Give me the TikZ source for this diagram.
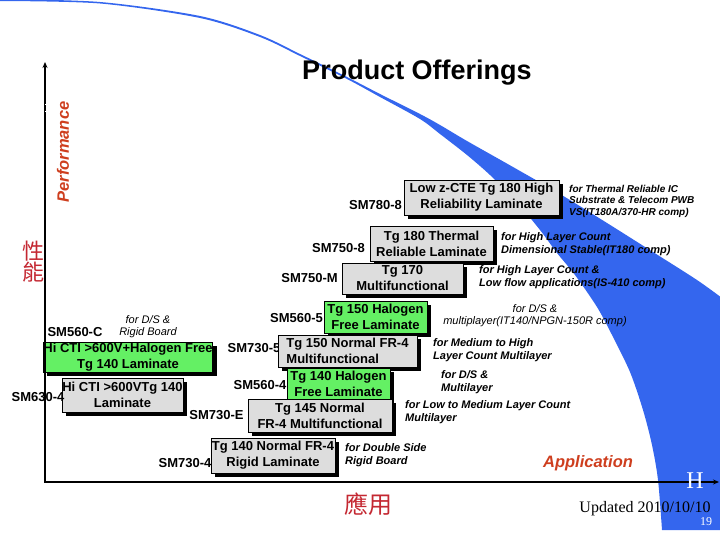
\documentclass[tikz,border=0pt]{standalone}
\usepackage{fontspec}
\setmainfont{Liberation Sans}
\newfontfamily\serifx{Liberation Serif}
\newfontfamily\cjk{Noto Sans CJK TC}
\usetikzlibrary{shadows,arrows.meta}
\definecolor{bandblue}{RGB}{52,102,238}
\definecolor{boxgray}{RGB}{221,221,221}
\definecolor{boxgreen}{RGB}{100,240,100}
\definecolor{axisred}{RGB}{206,62,30}
\definecolor{cjkred}{RGB}{196,40,50}
\begin{document}
\begin{tikzpicture}[x=1pt,y=-1pt,
  prod/.style={draw=black, line width=0.6pt, align=center, inner sep=1pt,
    font=\bfseries\fontsize{13}{16}\selectfont,
    drop shadow={shadow xshift=4pt, shadow yshift=-4pt, fill=black, opacity=1}},
  graybox/.style={prod, fill=boxgray},
  greenbox/.style={prod, fill=boxgreen},
  sm/.style={font=\bfseries\fontsize{13}{15}\selectfont, inner sep=0pt},
  usage/.style={font=\bfseries\itshape\fontsize{11}{13}\selectfont, align=left, inner sep=0pt, anchor=west},
  usagelt/.style={font=\itshape\fontsize{11}{12}\selectfont, align=center, inner sep=0pt},
  axisline/.style={line width=2.5pt, -{Stealth[length=6pt,width=5pt]}},
  axislabel/.style={font=\bfseries\itshape\fontsize{16.5}{18}\selectfont, text=axisred, inner sep=0pt},
]
\useasboundingbox (0,0) rectangle (720,540);

% blue band
\fill[bandblue] plot[smooth] coordinates {(-2,-1) (100,2) (200,16) (260,35) (300,54) (347,77) (380,94) (420,114) (440,125) (467,141) (513,167) (560,194) (607,223) (653,252) (697,280) (722,298)}
  -- (722,530) -- (662,530)
  -- plot[smooth] coordinates {(662,530) (658,480) (652,445) (643,410) (630,372) (612,335) (597,307) (575,275) (557,253) (540,230) (515,200) (490,175) (467,155) (440,134) (420,119) (380,97) (347,79) (300,56) (260,37) (200,18) (100,3.5) (-2,1)}
  -- cycle;

% title
\node[font=\bfseries\fontsize{27}{30}\selectfont, anchor=base, inner sep=0pt] (title) at (417,80) {Product Offerings};

% axis labels
\node[axislabel, rotate=90] (perf) at (63,152) {Performance};
\node[axislabel] (appl) at (588,463) {Application};
\node[font=\cjk\fontsize{22}{20}\selectfont, text=cjkred, align=center, inner sep=0pt] (xingneng) at (33,262) {性\\能};
\node[font=\cjk\fontsize{24}{26}\selectfont, text=cjkred, inner sep=0pt] (yingyong) at (368,504) {應用};

% product labels
\node[sm] (l1) at (375.5,205) {SM780-8};
\node[sm] (l2) at (338.5,248) {SM750-8};
\node[sm] (l3) at (309.5,278) {SM750-M};
\node[sm] (l4) at (296.5,318) {SM560-5};
\node[sm] (l5) at (254,348) {SM730-5};
\node[sm] (l6) at (260,385) {SM560-4};
\node[sm] (l7) at (216.5,415) {SM730-E};
\node[sm] (l8) at (185,463) {SM730-4};
\node[sm] (l9) at (75,332) {SM560-C};

% boxes
\node[graybox, minimum width=155pt, minimum height=35pt] (b1) at (481.5,197.5) {Low z-CTE Tg 180 High\\Reliability Laminate};
\node[graybox, minimum width=123pt, minimum height=35pt] (b2) at (431.5,243.5) {Tg 180 Thermal\\Reliable Laminate};
\node[graybox, minimum width=121pt, minimum height=31pt] (b3) at (402.5,278.5) {Tg 170\\Multifunctional};
\node[greenbox, minimum width=103pt, minimum height=32pt] (b4) at (375.5,317) {Tg 150 Halogen\\Free Laminate};
\node[graybox, align=left, minimum width=139pt, minimum height=32pt] (b5) at (347.5,351) {Tg 150 Normal FR-4\\Multifunctional};
\node[greenbox, minimum width=103pt, minimum height=32pt] (b6) at (338.5,384) {Tg 140 Halogen\\Free Laminate};
\node[graybox, minimum width=144pt, minimum height=33pt] (b7) at (320,415.5) {Tg 145 Normal\\FR-4 Multifunctional};
\node[graybox, minimum width=120pt, minimum height=35pt] (b8) at (273,455.5) {Tg 140 Normal FR-4\\Rigid Laminate};
\node[greenbox, inner xsep=0pt, minimum width=168pt, minimum height=30pt] (b9) at (128,357) {Hi CTI >600V+Halogen Free\\Tg 140 Laminate};
\node[graybox, inner xsep=0pt, minimum width=121pt, minimum height=34pt] (b10) at (122.5,395) {Hi CTI >600VTg 140\\Laminate};
\node[sm] (l10) at (38,397) {SM630-4};

% usage notes
\node[usage, font=\bfseries\itshape\fontsize{10}{11.5}\selectfont] (t1) at (569,201) {for Thermal Reliable IC\\Substrate \& Telecom PWB\\VS(IT180A/370-HR comp)};
\node[usage] (t2) at (501,244) {for High Layer Count\\Dimensional Stable(IT180 comp)};
\node[usage] (t3) at (479,277) {for High Layer Count \&\\Low flow applications(IS-410 comp)};
\node[usagelt] (t4) at (535,316) {for D/S \&\\multiplayer(IT140/NPGN-150R comp)};
\node[usage] (t5) at (433,350) {for Medium to High\\Layer Count Multilayer};
\node[usage] (t6) at (441,382) {for D/S \&\\Multilayer};
\node[usage] (t7) at (405,412) {for Low to Medium Layer Count\\Multilayer};
\node[usage] (t8) at (345,455) {for Double Side\\Rigid Board};
\node[usagelt] (t9) at (148,327) {for D/S \&\\Rigid Board};

% axes
\coordinate (origin) at (45,482);
\coordinate (ytip) at (45,62);
\coordinate (xtip) at (719,482);
\coordinate (xstart) at (44,482);
\draw[axisline] (origin) -- (ytip);
\draw[line width=2pt, -{Stealth[length=6pt,width=5pt]}] (xstart) -- (xtip);
\coordinate (tk1a) at (45,104); \coordinate (tk1b) at (51,104);
\coordinate (tk2a) at (45,111); \coordinate (tk2b) at (51,111);
\draw[white, line width=0.6pt] (tk1a) -- (tk1b);
\draw[white, line width=0.6pt] (tk2a) -- (tk2b);

% footer
\node[font=\serifx\fontsize{24}{26}\selectfont, text=white, inner sep=0pt] (hmark) at (695,481) {H};
\node[font=\serifx\fontsize{16}{18}\selectfont, inner sep=0pt] (updated) at (645,509) {Updated 2010/10/10};
\node[font=\serifx\fontsize{12}{14}\selectfont, text=white, inner sep=0pt] (pagenum) at (706,522) {19};
\end{tikzpicture}
\end{document}
